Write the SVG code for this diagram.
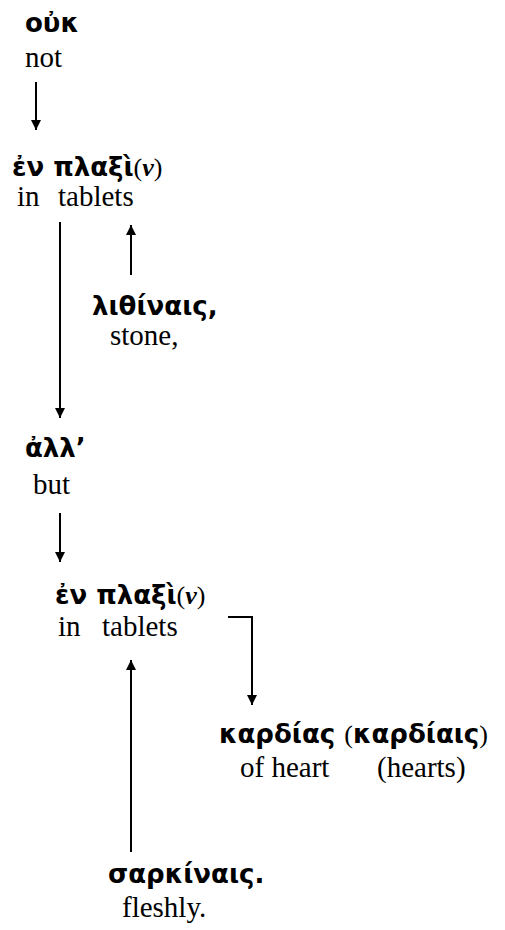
<svg xmlns="http://www.w3.org/2000/svg" width="505" height="930" viewBox="0 0 505 930">
<style>
.gk{font-family:"DejaVu Sans",sans-serif;font-weight:bold;font-size:26px;fill:#000}
.en{font-family:'Liberation Serif','Times New Roman','DejaVu Serif',serif;font-size:29px;fill:#000}
.par{font-family:'Liberation Serif','DejaVu Serif',serif;font-weight:normal}
.nu{font-family:'Liberation Serif','DejaVu Serif',serif;font-style:italic;font-weight:bold}
.ln{stroke:#000;stroke-width:2;fill:none}
</style>
<defs>
<marker id="ah" viewBox="0 0 10 10" refX="10" refY="5" markerWidth="10" markerHeight="10" markerUnits="userSpaceOnUse" orient="auto">
<path d="M0,0 L10,5 L0,10 z" fill="#000"/>
</marker>
</defs>
<g id="n_ouk"><text class="gk" x="25" y="32">οὐκ</text><text class="en" x="25" y="67">not</text></g>
<g id="n_en1"><text class="gk" x="12" y="176">ἐν πλαξὶ<tspan class="par">(</tspan><tspan class="nu">ν</tspan><tspan class="par">)</tspan></text><text class="en" x="17" y="206">in</text><text class="en" x="58" y="206">tablets</text></g>
<g id="n_lith"><text class="gk" x="92" y="315">λιθίναις,</text><text class="en" x="110" y="345">stone,</text></g>
<g id="n_all"><text class="gk" x="25" y="457">ἀλλ’</text><text class="en" x="33" y="494">but</text></g>
<g id="n_en2"><text class="gk" x="55" y="604">ἐν πλαξὶ<tspan class="par">(</tspan><tspan class="nu">ν</tspan><tspan class="par">)</tspan></text><text class="en" x="58" y="636">in</text><text class="en" x="102" y="636">tablets</text></g>
<g id="n_kard"><text class="gk" x="219" y="743">καρδίας <tspan class="par">(</tspan>καρδίαις<tspan class="par">)</tspan></text><text class="en" x="240" y="777">of heart</text><text class="en" x="377" y="777">(hearts)</text></g>
<g id="n_sark"><text class="gk" x="108" y="883">σαρκίναις.</text><text class="en" x="122" y="917">fleshly.</text></g>
<g id="connectors">
<line class="ln" x1="36" y1="82" x2="36" y2="130" marker-end="url(#ah)"/>
<line class="ln" x1="60" y1="222" x2="60" y2="418" marker-end="url(#ah)"/>
<line class="ln" x1="131" y1="275" x2="131" y2="225" marker-end="url(#ah)"/>
<line class="ln" x1="60" y1="513" x2="60" y2="562" marker-end="url(#ah)"/>
<polyline class="ln" points="228,617 252,617 252,705" marker-end="url(#ah)"/>
<line class="ln" x1="131" y1="852" x2="131" y2="660" marker-end="url(#ah)"/>
</g>
</svg>
